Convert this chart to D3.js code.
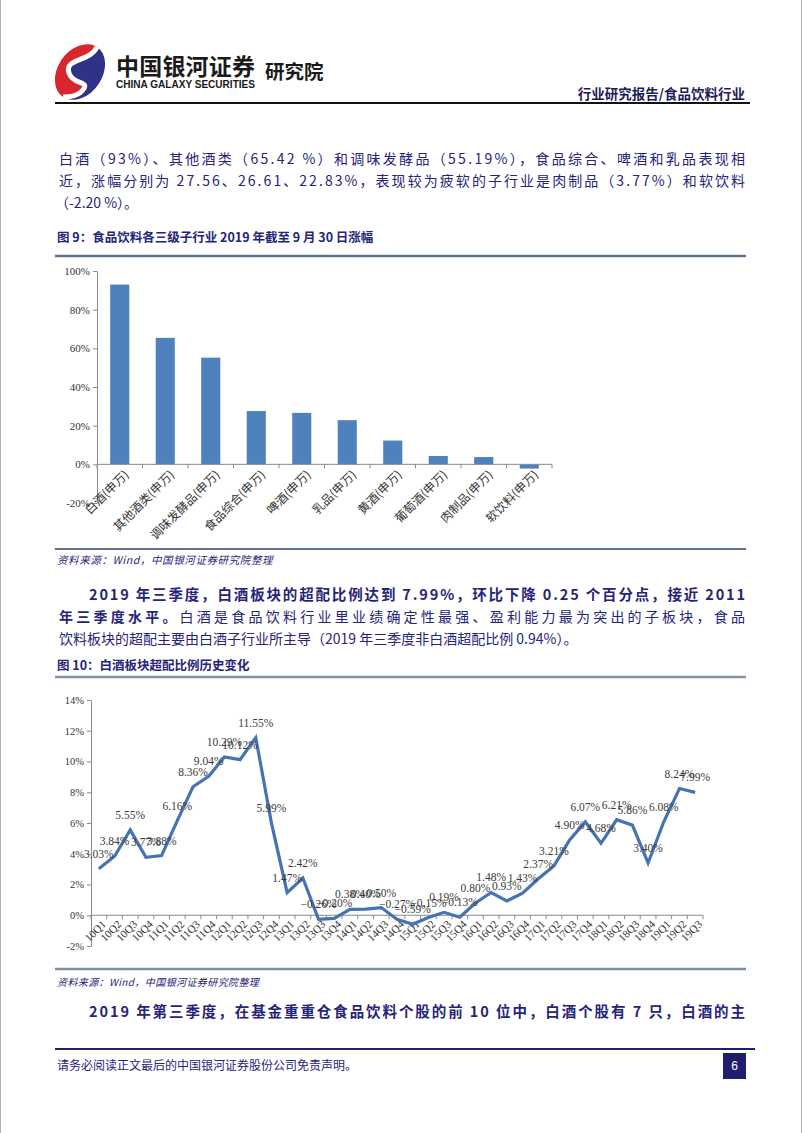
<!DOCTYPE html>
<html>
<head>
<meta charset="utf-8">
<script src="https://cdn.jsdelivr.net/npm/d3@7"></script>
<style>
  body { margin: 0; background: #fff; }
  svg { display: block; }
</style>
</head>
<body>
<script>
// figure 9 data: sub-industry gains 2019 YTD (%)
const barCats = ['白酒(申万)', '其他酒类(申万)', '调味发酵品(申万)', '食品综合(申万)', '啤酒(申万)',
                 '乳品(申万)', '黄酒(申万)', '葡萄酒(申万)', '肉制品(申万)', '软饮料(申万)'];
const barVals = [93, 65.42, 55.19, 27.56, 26.61, 22.83, 12.3, 4.3, 3.77, -2.2];
const barTicks = [-20, 0, 20, 40, 60, 80, 100];

// figure 10 data: baijiu overweight ratio by quarter (%)
const quarters = ['10Q1','10Q2','10Q3','10Q4','11Q1','11Q2','11Q3','11Q4','12Q1','12Q2','12Q3','12Q4',
                  '13Q1','13Q2','13Q3','13Q4','14Q1','14Q2','14Q3','14Q4','15Q1','15Q2','15Q3','15Q4',
                  '16Q1','16Q2','16Q3','16Q4','17Q1','17Q2','17Q3','17Q4','18Q1','18Q2','18Q3','18Q4',
                  '19Q1','19Q2','19Q3'];
const ratio = [3.03, 3.84, 5.55, 3.77, 3.88, 6.16, 8.36, 9.04, 10.29, 10.12, 11.55, 5.99,
               1.47, 2.42, -0.26, -0.20, 0.38, 0.40, 0.50, -0.27, -0.59, -0.15, 0.19, -0.13,
               0.80, 1.48, 0.93, 1.43, 2.37, 3.21, 4.90, 6.07, 4.68, 6.21, 5.86, 3.40,
               6.08, 8.24, 7.99];
const lineTicks = [-2, 0, 2, 4, 6, 8, 10, 12, 14];

const navy = '#25247a';
const cjk = '"Noto Sans CJK SC", "Noto Sans", sans-serif';
const serif = '"Liberation Serif", "DejaVu Serif", serif';

const svg = d3.select('body').append('svg')
  .attr('width', 802).attr('height', 1133);

// page edges
svg.append('line').attr('x1', 0.5).attr('x2', 0.5).attr('y1', 0).attr('y2', 1133).attr('stroke', '#b0b0b0');
svg.append('line').attr('x1', 801.5).attr('x2', 801.5).attr('y1', 0).attr('y2', 1133).attr('stroke', '#b0b0b0');

// ---- header ----
// logo: tilted ellipse split by an S curve, red left / blue right
const sCurve = 'M97,47 C90,62 64,58 69,73 C73,86 93,80 81,92 C77,96 70,97 63,97';
const logo = svg.append('g');
logo.append('path').attr('d', sCurve + ' A22,30 35 0 1 97,47 Z').attr('fill', '#d8262e');
logo.append('path').attr('d', sCurve + ' A22,30 35 0 0 97,47 Z').attr('fill', '#2e3388');
logo.append('path').attr('d', sCurve).attr('fill', 'none').attr('stroke', '#fff').attr('stroke-width', 5);

svg.append('text').attr('x', 116).attr('y', 75)
  .attr('font-family', cjk).attr('font-weight', 'bold').attr('font-size', 23)
  .attr('fill', '#1a1a1a').attr('textLength', 139).text('中国银河证券');
svg.append('text').attr('x', 116).attr('y', 88)
  .attr('font-family', '"Liberation Sans Narrow", "Liberation Sans", sans-serif')
  .attr('font-weight', 'bold').attr('font-size', 10).attr('fill', '#1a1a1a')
  .attr('textLength', 139).attr('lengthAdjust', 'spacingAndGlyphs').text('CHINA GALAXY SECURITIES');
svg.append('text').attr('x', 265).attr('y', 79)
  .attr('font-family', cjk).attr('font-weight', 'bold').attr('font-size', 19.5)
  .attr('fill', '#1a1a1a').text('研究院');
svg.append('text').attr('x', 745).attr('y', 99).attr('text-anchor', 'end')
  .attr('font-family', cjk).attr('font-weight', 'bold').attr('font-size', 13.5)
  .attr('fill', '#1c1c5a').text('行业研究报告/食品饮料行业');
svg.append('line').attr('x1', 55).attr('x2', 750).attr('y1', 103).attr('y2', 103)
  .attr('stroke', '#111').attr('stroke-width', 2);

// ---- text helpers ----
function textLine(x, y, parts, opts = {}) {
  const t = svg.append('text').attr('x', x).attr('y', y)
    .attr('font-family', cjk).attr('font-size', opts.size || 14).attr('fill', navy);
  if (opts.width) t.attr('textLength', opts.width).attr('lengthAdjust', 'spacing');
  parts.forEach(p => {
    t.append('tspan').attr('font-weight', p.bold ? 'bold' : 'normal').text(p.t);
  });
  return t;
}

textLine(59, 164, [{t: '白酒（93%）、其他酒类（65.42 %）和调味发酵品（55.19%），食品综合、啤酒和乳品表现相'}], {width: 686});
textLine(59, 186, [{t: '近，涨幅分别为 27.56、26.61、22.83%，表现较为疲软的子行业是肉制品（3.77%）和软饮料'}], {width: 686});
textLine(55, 208, [{t: '（-2.20 %）。'}]);

textLine(57, 242, [{t: '图 9：食品饮料各三级子行业 2019 年截至 9 月 30 日涨幅', bold: true}], {size: 12.5});
svg.append('line').attr('x1', 55).attr('x2', 746).attr('y1', 256).attr('y2', 256)
  .attr('stroke', '#5d7391').attr('stroke-width', 2.5);

// ---- figure 9: bar chart ----
const bx = d3.scaleBand().domain(barCats).range([97, 552]).padding(0);
const by = d3.scaleLinear().domain([-20, 100]).range([503, 271]);
const bw = bx.bandwidth();

svg.append('g').attr('transform', 'translate(97,0)')
  .call(d3.axisLeft(by).tickValues(barTicks).tickFormat(d => d + '%').tickSize(4).tickSizeOuter(0))
  .call(g => g.selectAll('text').attr('font-family', serif).attr('font-size', 11).attr('fill', '#333'))
  .call(g => g.selectAll('line, path').attr('stroke', '#8a8a8a'));

svg.append('g').selectAll('rect').data(barVals).join('rect')
  .attr('x', (d, i) => bx(barCats[i]) + bw * 0.29)
  .attr('width', bw * 0.42)
  .attr('y', d => by(Math.max(0, d)))
  .attr('height', d => Math.abs(by(d) - by(0)))
  .attr('fill', '#4f81bd');

svg.append('line').attr('x1', 97).attr('x2', 552).attr('y1', by(0)).attr('y2', by(0)).attr('stroke', '#8a8a8a');
svg.append('g').selectAll('line').data(barCats.concat(['end'])).join('line')
  .attr('x1', (d, i) => 97 + i * bw).attr('x2', (d, i) => 97 + i * bw)
  .attr('y1', by(0)).attr('y2', by(0) + 4).attr('stroke', '#8a8a8a');

svg.append('g').selectAll('text').data(barCats).join('text')
  .attr('transform', d => `translate(${bx(d) + bw / 2 + 7},${by(0) + 8}) rotate(-45)`)
  .attr('text-anchor', 'end').attr('dy', '0.35em')
  .attr('font-family', cjk).attr('font-size', 12).attr('fill', '#333')
  .text(d => d);

svg.append('line').attr('x1', 55).attr('x2', 746).attr('y1', 549).attr('y2', 549)
  .attr('stroke', '#5d7391').attr('stroke-width', 2);
textLine(57, 564, [{t: '资料来源：Wind，中国银河证券研究院整理'}], {size: 10.5})
  .attr('font-style', 'italic').attr('letter-spacing', 0.6);

// ---- paragraph 2 ----
textLine(89, 600, [{t: '2019 年三季度，白酒板块的超配比例达到 7.99%，环比下降 0.25 个百分点，接近 2011', bold: true}], {width: 656, size: 14.5});
textLine(59, 622, [{t: '年三季度水平。', bold: true}, {t: '白酒是食品饮料行业里业绩确定性最强、盈利能力最为突出的子板块，食品'}], {width: 686});
textLine(59, 644, [{t: '饮料板块的超配主要由白酒子行业所主导（2019 年三季度非白酒超配比例 0.94%）。'}]);

textLine(57, 670, [{t: '图 10：白酒板块超配比例历史变化', bold: true}], {size: 12.5});
svg.append('line').attr('x1', 55).attr('x2', 746).attr('y1', 677).attr('y2', 677)
  .attr('stroke', '#8595a8').attr('stroke-width', 2.5);

// ---- figure 10: line chart ----
const lx = d3.scalePoint().domain(quarters).range([91, 703]).padding(0.5);
const ly = d3.scaleLinear().domain([-2, 14]).range([946, 700]);
const step = lx.step();

svg.append('g').attr('transform', 'translate(91,0)')
  .call(d3.axisLeft(ly).tickValues(lineTicks).tickFormat(d => d + '%').tickSize(4).tickSizeOuter(0))
  .call(g => g.selectAll('text').attr('font-family', serif).attr('font-size', 10.5).attr('fill', '#333'))
  .call(g => g.selectAll('line, path').attr('stroke', '#8a8a8a'));

svg.append('line').attr('x1', 91).attr('x2', 703).attr('y1', ly(0)).attr('y2', ly(0)).attr('stroke', '#8a8a8a');
svg.append('g').selectAll('line').data(quarters.concat(['end'])).join('line')
  .attr('x1', (d, i) => 91 + i * step).attr('x2', (d, i) => 91 + i * step)
  .attr('y1', ly(0)).attr('y2', ly(0) + 4).attr('stroke', '#8a8a8a');

svg.append('g').selectAll('text').data(quarters).join('text')
  .attr('transform', d => `translate(${lx(d) + 5},${ly(0) + 7}) rotate(-45)`)
  .attr('text-anchor', 'end').attr('dy', '0.35em')
  .attr('font-family', serif).attr('font-size', 11).attr('fill', '#333')
  .text(d => d);

const line = d3.line()
  .x((d, i) => lx(quarters[i]))
  .y(d => ly(d));

svg.append('path').datum(ratio)
  .attr('d', line)
  .attr('fill', 'none').attr('stroke', '#4673b1').attr('stroke-width', 3.2)
  .attr('stroke-linejoin', 'miter');

svg.append('g').selectAll('text').data(ratio).join('text')
  .attr('x', (d, i) => lx(quarters[i]))
  .attr('y', d => ly(d) - 11)
  .attr('text-anchor', 'middle')
  .attr('font-family', serif).attr('font-size', 11.5).attr('fill', '#3a3a3a')
  .text(d => d3.format('.2f')(d) + '%');

svg.append('line').attr('x1', 55).attr('x2', 746).attr('y1', 969).attr('y2', 969)
  .attr('stroke', '#7d8fa3').attr('stroke-width', 2.5);
textLine(57, 986, [{t: '资料来源：Wind，中国银河证券研究院整理'}], {size: 10})
  .attr('font-style', 'italic').attr('letter-spacing', 0.4);

// ---- paragraph 3 ----
textLine(89, 1017, [{t: '2019 年第三季度，在基金重重仓食品饮料个股的前 10 位中，白酒个股有 7 只，白酒的主', bold: true}], {width: 656, size: 14.5});

// ---- footer ----
svg.append('line').attr('x1', 55).attr('x2', 755).attr('y1', 1049).attr('y2', 1049)
  .attr('stroke', '#1f1f6e').attr('stroke-width', 2);
textLine(57, 1070, [{t: '请务必阅读正文最后的中国银河证券股份公司免责声明。'}], {size: 12});
svg.append('rect').attr('x', 723).attr('y', 1053).attr('width', 23).attr('height', 26).attr('fill', '#1f1f6e');
svg.append('text').attr('x', 734.5).attr('y', 1070).attr('text-anchor', 'middle')
  .attr('font-family', '"Liberation Sans", sans-serif').attr('font-size', 12).attr('fill', '#fff').text('6');
</script>
</body>
</html>
